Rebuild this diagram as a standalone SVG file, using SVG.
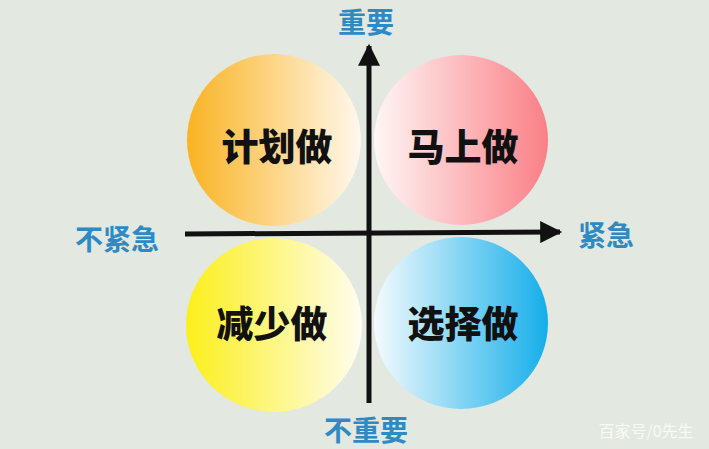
<svg xmlns="http://www.w3.org/2000/svg" width="709" height="449" viewBox="0 0 709 449">
<style>
.ax{font-family:"Noto Sans CJK SC",sans-serif;font-weight:bold;font-size:28px;fill:#2f8ac4;text-anchor:middle}
.q{font-family:"Noto Sans CJK SC",sans-serif;font-weight:900;font-size:37px;fill:#111;text-anchor:middle}
.line{stroke:#111;stroke-width:5;fill:none}
</style>
<defs>
<linearGradient id="gtl" x1="0" x2="1"><stop offset="0" stop-color="#f9b323"/><stop offset="1" stop-color="#fff8ee"/></linearGradient>
<linearGradient id="gtr" x1="0" x2="1"><stop offset="0" stop-color="#fff6f6"/><stop offset="1" stop-color="#fa7f86"/></linearGradient>
<linearGradient id="gbl" x1="0" x2="1"><stop offset="0" stop-color="#fbef1a"/><stop offset="1" stop-color="#fffdf0"/></linearGradient>
<linearGradient id="gbr" x1="0" x2="1"><stop offset="0" stop-color="#f4fbfe"/><stop offset="1" stop-color="#14aeea"/></linearGradient>
<marker id="ah" viewBox="0 0 10 10" refX="9" refY="5" markerWidth="5" markerHeight="4.4" orient="auto" markerUnits="strokeWidth"><path d="M0,0L10,5L0,10z" fill="#111"/></marker>
</defs>
<rect width="709" height="449" fill="#e3e8e1"/>
<g id="plan"><ellipse cx="274" cy="140" rx="87" ry="86" fill="url(#gtl)"/><text class="q" x="277" y="161">计划做</text></g>
<g id="now"><ellipse cx="461" cy="140" rx="87" ry="85" fill="url(#gtr)"/><text class="q" x="463" y="161">马上做</text></g>
<g id="reduce"><ellipse cx="274" cy="325" rx="88" ry="87" fill="url(#gbl)"/><text class="q" x="272" y="338">减少做</text></g>
<g id="choose"><ellipse cx="461" cy="323" rx="87" ry="86" fill="url(#gbr)"/><text class="q" x="463" y="338">选择做</text></g>
<g id="connectors">
<line class="line" x1="369" y1="403" x2="369" y2="46" marker-end="url(#ah)"/>
<line class="line" x1="185" y1="234" x2="560" y2="232" marker-end="url(#ah)"/>
</g>
<g id="labels">
<text class="ax" x="366" y="33">重要</text>
<text class="ax" x="117" y="250">不紧急</text>
<text class="ax" x="606" y="246">紧急</text>
<text class="ax" x="366" y="441">不重要</text>
<text x="646" y="437" font-family="'Noto Sans CJK SC',sans-serif" font-size="16" fill="#ffffff" fill-opacity="0.8" text-anchor="middle">百家号/0先生</text>
</g>
</svg>
